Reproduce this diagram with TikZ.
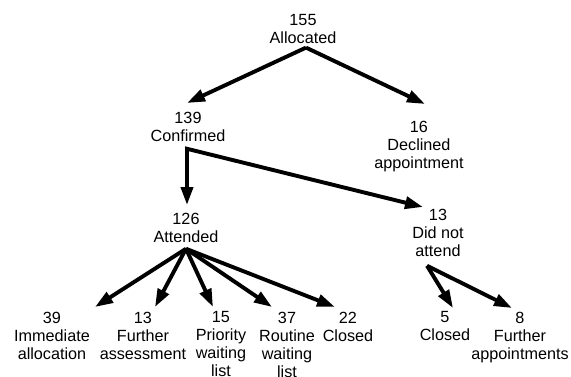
\documentclass[tikz,border=0pt]{standalone}
\usepackage{fontspec}
\setmainfont{Liberation Sans}
\usetikzlibrary{arrows.meta,calc}
\tikzset{
  lbl/.style={align=center, inner sep=0pt, anchor=north, font={\fontsize{16.2}{18}\selectfont}},
  tipshape/.style={},
  arr/.style={line width=3.9pt, -{Triangle[length=18pt,width=12pt]}},
  arr2/.style={line width=3.9pt, {Triangle[length=18pt,width=12pt]}-{Triangle[length=18pt,width=12pt]}, line join=miter},
}
\begin{document}
\begin{tikzpicture}[x=1pt,y=-1pt]
\useasboundingbox (0,0) rectangle (571,376);
\node[lbl] (alloc) at (303,14.5) {155\\Allocated};
\node[lbl] (conf) at (188,111.5) {139\\Confirmed};
\node[lbl] (decl) at (419,120.5) {16\\Declined\\appointment};
\node[lbl] (att) at (186,212.5) {126\\Attended};
\node[lbl] (dna) at (438,208.5) {13\\Did not\\attend};
\node[lbl] (imm) at (52,311.5) {39\\Immediate\\allocation};
\node[lbl] (fur) at (143,311.5) {13\\Further\\assessment};
\node[lbl] (pri) at (221,311.5) {15\\Priority\\waiting\\list};
\node[lbl] (rou) at (287,311.5) {37\\Routine\\waiting\\list};
\node[lbl] (clo) at (348,311.5) {22\\Closed};
\node[lbl] (clo2) at (445,311.5) {5\\Closed};
\node[lbl] (furapp) at (520,311.5) {8\\Further\\appointments};

\draw[arr] ([shift={(3,3.4)}]alloc.south) -- ([shift={(-1,-8.5)}]conf.north);
\draw[arr] ([shift={(3,3.4)}]alloc.south) -- ([shift={(6,-16.5)}]decl.north);
\draw[arr2] ([shift={(1,-7.5)}]att.north) -- ([shift={(-1,7.4)}]conf.south) -- ([shift={(-15,-1.5)}]dna.north);
\draw[arr] ([shift={(0,6.4)}]att.south) -- ([shift={(43,-4.5)}]imm.north);
\draw[arr] ([shift={(0,6.4)}]att.south) -- ([shift={(12,-4.5)}]fur.north);
\draw[arr] ([shift={(0,6.4)}]att.south) -- ([shift={(-8,-4.5)}]pri.north);
\draw[arr] ([shift={(0,6.4)}]att.south) -- ([shift={(-15,-4.5)}]rou.north);
\draw[arr] ([shift={(0,6.4)}]att.south) -- ([shift={(-13,-4.5)}]clo.north);
\draw[arr] ([shift={(-11,9.4)}]dna.south) -- ([shift={(8,-3.5)}]clo2.north);
\draw[arr] ([shift={(-11,9.4)}]dna.south) -- ([shift={(-8,-3.5)}]furapp.north);
\end{tikzpicture}
\end{document}
